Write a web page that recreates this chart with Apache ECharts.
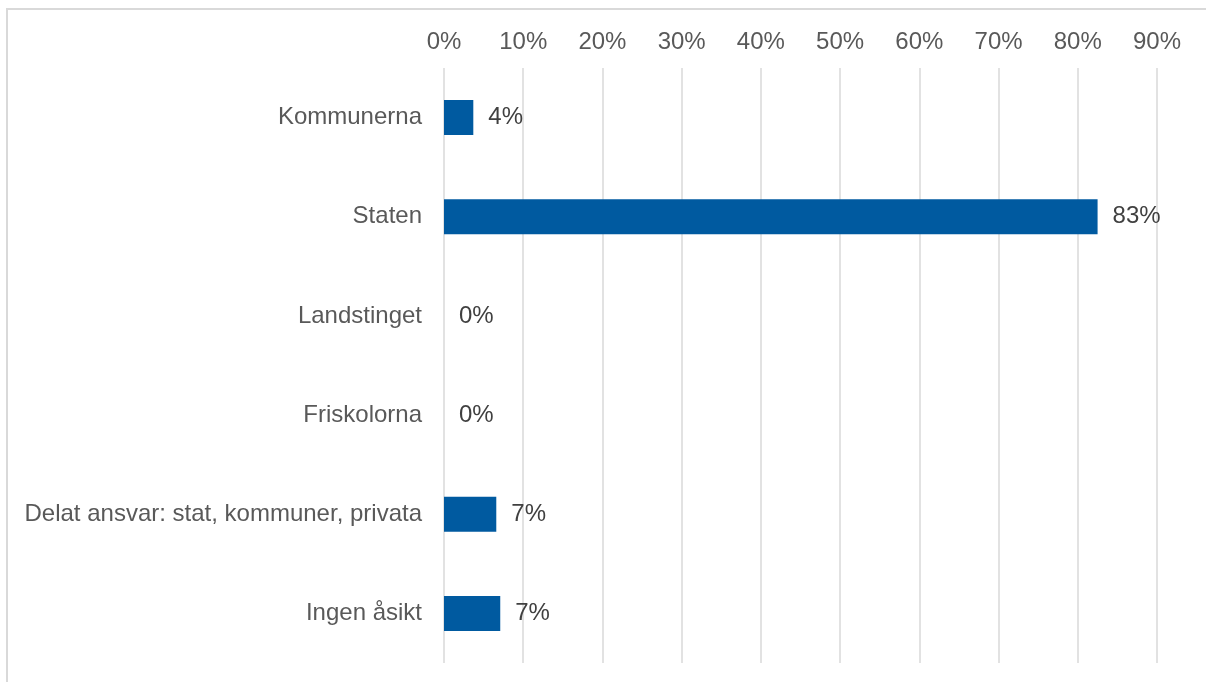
<!DOCTYPE html>
<html>
<head>
<meta charset="utf-8">
<script src="https://cdn.jsdelivr.net/npm/echarts@6/dist/echarts.min.js"></script>
<style>
html,body{margin:0;padding:0;background:#fff;}
#chart{width:1206px;height:682px;}
</style>
</head>
<body>
<div id="chart"></div>
<script>
const categories = ["Kommunerna", "Staten", "Landstinget", "Friskolorna", "Delat ansvar: stat, kommuner, privata", "Ingen åsikt"];
const values = [3.7, 82.5, 0, 0, 6.6, 7.1];
const axisMax = 90;
const axisStep = 10;

const chart = echarts.init(document.getElementById('chart'), null, {renderer: 'canvas'});
const font = '"Liberation Sans", Arial, sans-serif';
chart.setOption({
  animation: false,
  backgroundColor: '#ffffff',
  graphic: [{
    type: 'rect',
    shape: {x: 7, y: 9, width: 1400, height: 900},
    style: {fill: 'none', stroke: '#d9d9d9', lineWidth: 2},
    silent: true
  }],
  grid: {left: 444, right: 49, top: 68, bottom: 19, containLabel: false},
  xAxis: {
    type: 'value',
    position: 'top',
    min: 0,
    max: axisMax,
    interval: axisStep,
    axisLine: {show: false},
    axisTick: {show: false},
    axisLabel: {
      formatter: v => v + '%',
      color: '#595959',
      fontSize: 24,
      fontFamily: font,
      margin: 14
    },
    splitLine: {show: true, lineStyle: {color: '#d9d9d9', width: 1.5}}
  },
  yAxis: {
    type: 'category',
    data: categories,
    inverse: true,
    axisLine: {show: false},
    axisTick: {show: false},
    axisLabel: {
      color: '#595959',
      fontSize: 24,
      fontFamily: font,
      margin: 22,
      padding: [3, 0, 0, 0]
    }
  },
  series: [{
    type: 'bar',
    data: values,
    barWidth: 35,
    itemStyle: {color: '#005aa0'},
    label: {
      show: true,
      position: 'right',
      distance: 15,
      padding: [3, 0, 0, 0],
      formatter: p => Math.round(p.value) + '%',
      color: '#404040',
      fontSize: 24,
      fontFamily: font
    }
  }]
});
</script>
</body>
</html>
